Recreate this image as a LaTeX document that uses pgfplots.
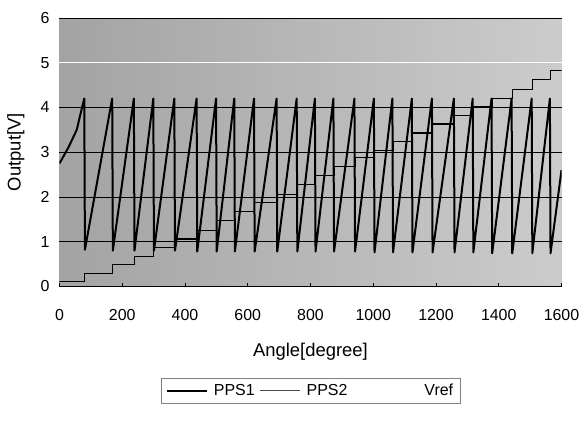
\documentclass[border=0pt]{standalone}
\usepackage{fontspec}
\setmainfont{Liberation Sans}
\usepackage{pgfplots}
\pgfplotsset{compat=1.18}
\begin{document}
\begin{tikzpicture}
\begin{axis}[
  name=main,
  width=502bp, height=268.4bp, scale only axis,
  xmin=0, xmax=1600, ymin=0, ymax=6,
  xtick={0,200,...,1600},
  ytick={0,1,2,3,4,6},
  extra y ticks={5},
  extra y tick style={grid=major, major grid style={white, line width=0.9bp}},
  ymajorgrids, major grid style={black, line width=0.7bp},
  axis line style={draw=none},
  xtick pos=bottom, tick align=inside, major tick length=3bp,
  xtick style={black, line width=0.6bp}, ytick style={draw=none},
  axis background/.style={shade, left color=black!36, right color=black!20},
  tick label style={font=\fontsize{16}{18}\selectfont},
  /pgf/number format/assume math mode=true,
  /pgf/number format/1000 sep={},
  xticklabel style={yshift=-19bp},
  yticklabel style={xshift=-6.5bp},
  xlabel={Angle[degree]}, ylabel={Output[V]},
  label style={font=\fontsize{18.5}{21}\selectfont},
  xlabel style={at={(axis description cs:0.5,-0.2444)}, anchor=center},
  ylabel style={at={(axis description cs:-0.0867,0.5)}, anchor=center},
  legend columns=3,
  legend style={at={(0.5,-0.3413)}, anchor=north, draw=gray, line width=0.5bp,
    font=\fontsize{16}{18}\selectfont, inner xsep=5bp, inner ysep=4bp,
    /tikz/every odd column/.append style={column sep=4bp},
    /tikz/every even column/.append style={column sep=3bp}},
]
% PPS2: staircase reference
\addplot[forget plot, black, line width=1.1bp, const plot] coordinates {
  (0,0.10) (81,0.29) (170,0.48) (239,0.66) (301,0.87) (368,1.06)
  (439,1.25) (501,1.48) (559,1.67) (622,1.88) (694,2.05) (758,2.27)
  (816,2.47) (875,2.68) (942,2.88) (1004,3.03) (1063,3.24) (1125,3.43)
  (1189,3.63) (1259,3.83) (1319,4.02) (1379,4.21) (1443,4.41) (1507,4.62)
  (1565,4.83) (1600,4.83)
};
% PPS1: sawtooth
\addplot[forget plot, black, line width=2bp, line join=round] coordinates {
  (0,2.75) (28,3.10) (55,3.50) (65,3.80) (79,4.20)
  (81,0.82) (168,4.20)
  (170,0.80) (237,4.20)
  (239,0.80) (299,4.20)
  (301,0.80) (366,4.20)
  (368,0.80) (437,4.20)
  (439,0.78) (499,4.20)
  (501,0.78) (557,4.20)
  (559,0.78) (620,4.20)
  (622,0.78) (692,4.20)
  (694,0.78) (756,4.20)
  (758,0.78) (814,4.20)
  (816,0.78) (873,4.20)
  (875,0.78) (940,4.20)
  (942,0.78) (1002,4.20)
  (1004,0.76) (1061,4.20)
  (1063,0.76) (1123,4.20)
  (1125,0.76) (1187,4.20)
  (1189,0.76) (1257,4.20)
  (1259,0.76) (1317,4.20)
  (1319,0.76) (1377,4.20)
  (1379,0.74) (1441,4.20)
  (1443,0.74) (1505,4.20)
  (1507,0.74) (1563,4.20)
  (1565,0.74) (1600,2.60)
};
\addlegendimage{legend image code/.code={\draw[black, line width=2bp] (0bp,0bp) -- (40bp,0bp);}}
\addlegendentry{PPS1}
\addlegendimage{legend image code/.code={\draw[black!70, line width=1.1bp] (0bp,0bp) -- (40bp,0bp);}}
\addlegendentry{PPS2}
\addlegendimage{legend image code/.code={\path[draw=none] (0bp,0bp) -- (66bp,0bp);}}
\addlegendentry{Vref}
\end{axis}
\pgfresetboundingbox
\path ([shift={(-59.5bp,-134.6bp)}]main.south west) rectangle ([shift={(20.5bp,18bp)}]main.north east);
\end{tikzpicture}
\end{document}
